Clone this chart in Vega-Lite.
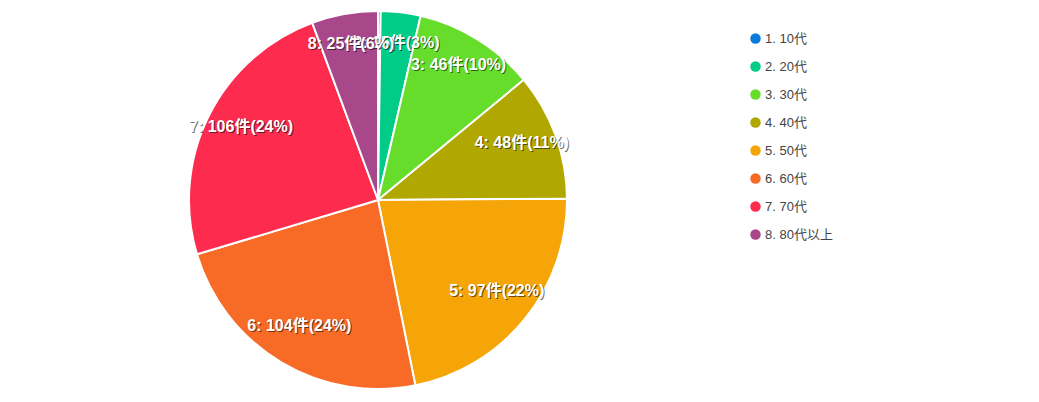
{
  "$schema": "https://vega.github.io/schema/vega-lite/v6.json",
  "width": 756,
  "height": 400,
  "padding": {"left": 0, "top": 0, "right": 283, "bottom": 2},
  "autosize": {"type": "none"},
  "background": "#ffffff",
  "config": {"view": {"stroke": null}, "font": "Liberation Sans"},
  "data": {
    "values": [
      {"order": 1, "category": "1. 10代", "count": 1, "label": "", "labelTop": ""},
      {"order": 2, "category": "2. 20代", "count": 15, "label": "2: 15件(3%)", "labelTop": ""},
      {"order": 3, "category": "3. 30代", "count": 46, "label": "3: 46件(10%)", "labelTop": ""},
      {"order": 4, "category": "4. 40代", "count": 48, "label": "4: 48件(11%)", "labelTop": ""},
      {"order": 5, "category": "5. 50代", "count": 97, "label": "5: 97件(22%)", "labelTop": ""},
      {"order": 6, "category": "6. 60代", "count": 104, "label": "6: 104件(24%)", "labelTop": ""},
      {"order": 7, "category": "7. 70代", "count": 106, "label": "7: 106件(24%)", "labelTop": ""},
      {"order": 8, "category": "8. 80代以上", "count": 25, "label": "", "labelTop": "8: 25件(6%)"}
    ]
  },
  "encoding": {
    "theta": {"field": "count", "type": "quantitative", "stack": true},
    "order": {"field": "order", "type": "quantitative"}
  },
  "layer": [
    {
      "mark": {"type": "arc", "outerRadius": 189, "stroke": "#ffffff", "strokeWidth": 2},
      "encoding": {
        "color": {
          "field": "category",
          "type": "nominal",
          "scale": {
            "domain": ["1. 10代", "2. 20代", "3. 30代", "4. 40代", "5. 50代", "6. 60代", "7. 70代", "8. 80代以上"],
            "range": ["#0a7bdb", "#00cc88", "#66dd2a", "#b0a800", "#f5a507", "#f86b27", "#fd2c4f", "#a8488b"]
          },
          "legend": {
            "title": null,
            "orient": "none",
            "legendX": 749,
            "legendY": 32,
            "symbolType": "circle",
            "symbolSize": 110,
            "symbolStrokeWidth": 0,
            "labelFontSize": 13,
            "labelColor": "#444444",
            "labelFont": "Liberation Sans, Noto Sans CJK JP",
            "labelOffset": 3,
            "rowPadding": 14
          }
        }
      }
    },
    {
      "mark": {"type": "text", "radius": 153, "fontSize": 16, "fontWeight": "bold", "fill": "#000000", "opacity": 0.55, "dx": 1, "dy": -4, "font": "Liberation Sans, Noto Sans CJK JP"},
      "encoding": {"text": {"field": "label"}}
    },
    {
      "mark": {"type": "text", "radius": 153, "fontSize": 16, "fontWeight": "bold", "fill": "#ffffff", "dy": -5, "font": "Liberation Sans, Noto Sans CJK JP"},
      "encoding": {"text": {"field": "label"}}
    },
    {
      "mark": {"type": "text", "radius": 153, "fontSize": 16, "fontWeight": "bold", "fill": "#000000", "opacity": 0.55, "dx": 1, "dy": -4, "font": "Liberation Sans, Noto Sans CJK JP"},
      "encoding": {"text": {"field": "labelTop"}}
    },
    {
      "mark": {"type": "text", "radius": 153, "fontSize": 16, "fontWeight": "bold", "fill": "#ffffff", "dy": -5, "font": "Liberation Sans, Noto Sans CJK JP"},
      "encoding": {"text": {"field": "labelTop"}}
    }
  ]
}
